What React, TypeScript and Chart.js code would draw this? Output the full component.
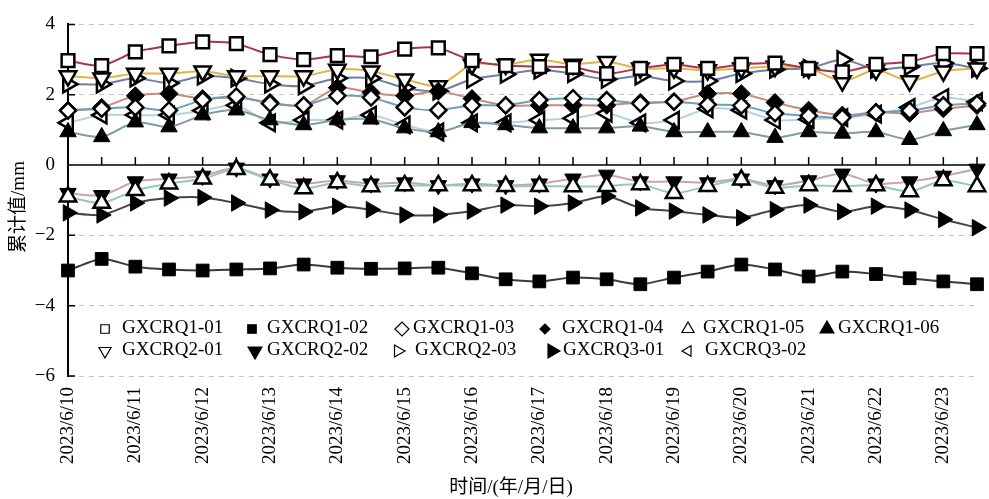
import React, { useEffect, useRef } from 'react';
import { Chart, registerables } from 'chart.js';
import { drawPoint } from 'chart.js/helpers';

Chart.register(...registerables);

// ---- data ----
const dates = [
  '2023/6/10', '2023/6/11', '2023/6/12', '2023/6/13', '2023/6/14', '2023/6/15', '2023/6/16',
  '2023/6/17', '2023/6/18', '2023/6/19', '2023/6/20', '2023/6/21', '2023/6/22', '2023/6/23',
];
// two observations per day (morning / evening)
const categories = [
  '6/10 AM', '6/10 PM', '6/11 AM', '6/11 PM', '6/12 AM', '6/12 PM', '6/13 AM', '6/13 PM',
  '6/14 AM', '6/14 PM', '6/15 AM', '6/15 PM', '6/16 AM', '6/16 PM', '6/17 AM', '6/17 PM',
  '6/18 AM', '6/18 PM', '6/19 AM', '6/19 PM', '6/20 AM', '6/20 PM', '6/21 AM', '6/21 PM',
  '6/22 AM', '6/22 PM', '6/23 AM', '6/23 PM',
];
const yTicks = [-6, -4, -2, 0, 2, 4];

const q1_01 = [2.97, 2.83, 3.22, 3.39, 3.5, 3.45, 3.14, 3.0, 3.11, 3.08, 3.3, 3.33, 2.97, 2.83, 2.8, 2.78, 2.6, 2.75, 2.86, 2.75, 2.86, 2.9, 2.75, 2.65, 2.86, 2.94, 3.17, 3.17];
const q1_02 = [-3.0, -2.67, -2.89, -2.97, -3.0, -2.97, -2.94, -2.83, -2.92, -2.95, -2.94, -2.92, -3.08, -3.25, -3.31, -3.2, -3.25, -3.39, -3.2, -3.03, -2.83, -2.97, -3.17, -3.03, -3.1, -3.22, -3.31, -3.39];
const q1_03 = [1.55, 1.6, 1.64, 1.56, 1.85, 1.95, 1.75, 1.7, 1.97, 1.92, 1.64, 1.56, 1.7, 1.7, 1.85, 1.9, 1.85, 1.75, 1.8, 1.72, 1.69, 1.47, 1.4, 1.35, 1.5, 1.55, 1.7, 1.75];
const q1_04 = [1.56, 1.64, 1.97, 2.03, 1.89, 1.92, 1.78, 1.69, 2.2, 2.06, 1.97, 2.1, 1.89, 1.69, 1.7, 1.7, 1.7, 1.78, 1.8, 2.03, 2.03, 1.78, 1.56, 1.42, 1.5, 1.47, 1.6, 1.69];
const q1_05 = [-0.9, -1.08, -0.72, -0.53, -0.39, -0.12, -0.42, -0.67, -0.5, -0.61, -0.58, -0.58, -0.58, -0.6, -0.6, -0.61, -0.6, -0.55, -0.8, -0.6, -0.42, -0.65, -0.58, -0.6, -0.58, -0.75, -0.44, -0.61];
const q1_06 = [0.94, 0.8, 1.22, 1.08, 1.42, 1.56, 1.28, 1.14, 1.28, 1.3, 1.05, 0.94, 1.2, 1.14, 1.05, 1.05, 1.05, 1.1, 0.94, 0.94, 0.94, 0.78, 0.94, 0.9, 0.94, 0.72, 0.97, 1.14];
const q2_01 = [2.53, 2.47, 2.6, 2.6, 2.67, 2.53, 2.53, 2.53, 2.72, 2.67, 2.44, 2.25, 2.86, 2.86, 3.0, 2.86, 2.94, 2.75, 2.75, 2.7, 2.75, 2.8, 2.75, 2.39, 2.7, 2.39, 2.67, 2.75];
const q2_02 = [-0.8, -0.86, -0.47, -0.39, -0.31, -0.08, -0.39, -0.53, -0.44, -0.53, -0.5, -0.58, -0.53, -0.58, -0.53, -0.39, -0.28, -0.47, -0.47, -0.5, -0.39, -0.58, -0.44, -0.25, -0.53, -0.47, -0.31, -0.11];
const q2_03 = [2.3, 2.3, 2.47, 2.33, 2.53, 2.47, 2.3, 2.25, 2.47, 2.47, 2.2, 2.1, 2.44, 2.58, 2.7, 2.6, 2.44, 2.53, 2.39, 2.39, 2.6, 2.72, 2.75, 3.0, 2.72, 2.8, 2.9, 2.75];
const q3_01 = [-1.36, -1.42, -1.08, -0.94, -0.92, -1.08, -1.28, -1.33, -1.17, -1.27, -1.42, -1.42, -1.31, -1.14, -1.17, -1.08, -0.89, -1.22, -1.31, -1.42, -1.5, -1.27, -1.14, -1.33, -1.17, -1.28, -1.55, -1.78];
const q3_02 = [1.2, 1.42, 1.42, 1.42, 1.55, 1.7, 1.2, 1.28, 1.28, 1.42, 1.14, 0.94, 1.2, 1.2, 1.28, 1.33, 1.47, 1.2, 1.28, 1.6, 1.56, 1.28, 1.3, 1.35, 1.45, 1.64, 1.92, 1.8];

const FONT = "'Liberation Serif', 'Times New Roman', 'Noto Sans CJK SC', serif";

type S = {
  label: string; data: number[]; color: string; style: string; rot: number;
  filled: boolean; r: number; lr: number;
};

const series: S[] = [
  { label: 'GXCRQ1-01', data: q1_01, color: '#a8354a', style: 'rect', rot: 0, filled: false, r: 9, lr: 6 },
  { label: 'GXCRQ1-02', data: q1_02, color: '#3a3a3a', style: 'rect', rot: 0, filled: true, r: 9, lr: 6 },
  { label: 'GXCRQ1-03', data: q1_03, color: '#6d9fbd', style: 'rectRot', rot: 0, filled: false, r: 8, lr: 7 },
  { label: 'GXCRQ1-04', data: q1_04, color: '#c98a7a', style: 'rectRot', rot: 0, filled: true, r: 9, lr: 5 },
  { label: 'GXCRQ1-05', data: q1_05, color: '#93c9c3', style: 'triangle', rot: 0, filled: false, r: 9.5, lr: 7 },
  { label: 'GXCRQ1-06', data: q1_06, color: '#7f9c9f', style: 'triangle', rot: 0, filled: true, r: 9.5, lr: 8 },
  { label: 'GXCRQ2-01', data: q2_01, color: '#e2b445', style: 'triangle', rot: 180, filled: false, r: 9.5, lr: 7 },
  { label: 'GXCRQ2-02', data: q2_02, color: '#c4a7ae', style: 'triangle', rot: 180, filled: true, r: 9.5, lr: 8 },
  { label: 'GXCRQ2-03', data: q2_03, color: '#6f7ea3', style: 'triangle', rot: 90, filled: false, r: 9.5, lr: 7 },
  { label: 'GXCRQ3-01', data: q3_01, color: '#4b3f4f', style: 'triangle', rot: 90, filled: true, r: 9.5, lr: 8 },
  { label: 'GXCRQ3-02', data: q3_02, color: '#b5d3e3', style: 'triangle', rot: 270, filled: false, r: 9.5, lr: 6 },
];

// legend placement: [series index, symbol x, text x, row]
const legendLayout: [number, number, number, number][] = [
  [0, 105, 122, 0], [1, 252, 267, 0], [2, 402, 413, 0], [3, 545, 562, 0], [4, 688, 703, 0], [5, 827, 838, 0],
  [6, 105, 122, 1], [7, 255, 267, 1], [8, 398, 415, 1], [9, 552, 563, 1], [10, 688, 705, 1],
];
const legendRowsY = [328, 350];

const axisDecor = {
  id: 'axisDecor',
  beforeDatasetsDraw(chart: any) {
    const { ctx, chartArea, scales } = chart;
    const y0 = scales.y.getPixelForValue(0);
    ctx.save();
    ctx.strokeStyle = '#000';
    ctx.lineWidth = 1.5;
    ctx.beginPath();
    ctx.moveTo(chartArea.left, y0);
    ctx.lineTo(chartArea.right, y0);
    for (let i = 1; i < categories.length; i++) {
      const x = scales.x.getPixelForValue(i);
      ctx.moveTo(x, y0);
      ctx.lineTo(x, y0 - 8);
    }
    for (const v of yTicks) {
      const y = scales.y.getPixelForValue(v);
      ctx.moveTo(chartArea.left, y);
      ctx.lineTo(chartArea.left + 7, y);
    }
    ctx.stroke();
    ctx.restore();
  },
  afterDraw(chart: any) {
    const { ctx } = chart;
    ctx.save();
    // legend
    ctx.font = `19px ${FONT}`;
    ctx.fillStyle = '#000';
    ctx.textBaseline = 'middle';
    ctx.textAlign = 'left';
    for (const [si, sx, tx, row] of legendLayout) {
      const s = series[si];
      const y = legendRowsY[row];
      ctx.fillStyle = s.filled ? '#000' : '#fff';
      ctx.strokeStyle = '#000';
      ctx.lineWidth = 1.2;
      drawPoint(ctx, { pointStyle: s.style, rotation: s.rot, radius: s.lr, borderWidth: 1.2 } as any, sx, y + 1);
      ctx.fillStyle = '#000';
      ctx.fillText(s.label, tx, y);
    }
    // axis titles
    ctx.font = `19px ${FONT}`;
    ctx.textAlign = 'center';
    ctx.fillText('时间/(年/月/日)', 511, 488);
    ctx.translate(19, 207);
    ctx.rotate(-Math.PI / 2);
    ctx.fillText('累计值/mm', 0, 0);
    ctx.restore();
  },
};

export default function App() {
  const ref = useRef<HTMLCanvasElement>(null);
  useEffect(() => {
    if (!ref.current) return;
    const chart = new Chart(ref.current, {
      type: 'line',
      data: {
        labels: categories,
        datasets: series.map((s) => ({
          label: s.label,
          data: s.data,
          borderColor: s.color,
          borderWidth: 2,
          tension: 0.25,
          pointStyle: s.style as any,
          pointRotation: s.rot,
          pointRadius: s.r,
          pointHoverRadius: s.r,
          pointBackgroundColor: s.filled ? '#000' : '#fff',
          pointBorderColor: '#000',
          pointBorderWidth: s.filled ? 1 : 2.5,
          clip: false as any,
        })),
      },
      options: {
        responsive: false,
        animation: false,
        layout: { padding: { top: 17, right: 8, left: 0, bottom: 0 } },
        plugins: { legend: { display: false }, tooltip: { enabled: false }, title: { display: false } },
        scales: {
          x: {
            type: 'category',
            grid: { display: false, drawTicks: false },
            border: { display: false },
            afterFit: (scale: any) => {
              scale.height = 123;
              scale.paddingLeft = 0;
              scale.paddingRight = 0;
            },
            ticks: {
              autoSkip: false,
              maxRotation: 90,
              minRotation: 90,
              padding: 11,
              color: '#000',
              font: { family: FONT, size: 19 },
              callback: (_v: any, i: number) => (i % 2 === 0 ? dates[i / 2] : ''),
            },
          },
          y: {
            min: -6,
            max: 4,
            afterFit: (scale: any) => { scale.width = 68; },
            grid: {
              drawTicks: false,
              color: (c: any) => (c.tick && c.tick.value === 0 ? 'rgba(0,0,0,0)' : '#c4c4c4'),
              lineWidth: 1,
            },
            border: { display: true, color: '#000', width: 2, dash: [5, 5] },
            ticks: {
              stepSize: 2,
              padding: 13,
              color: '#000',
              font: { family: FONT, size: 19 },
              callback: (v: any) => (Number(v) < 0 ? '\u2212' + Math.abs(Number(v)) : String(v)),
            },
          },
        },
      },
      plugins: [axisDecor],
    });
    return () => chart.destroy();
  }, []);
  return (
    <div style={{ position: 'fixed', left: 0, top: 0, width: 989, height: 499, background: '#fff' }}>
      <canvas ref={ref} width={989} height={499} style={{ display: 'block' }} />
    </div>
  );
}
